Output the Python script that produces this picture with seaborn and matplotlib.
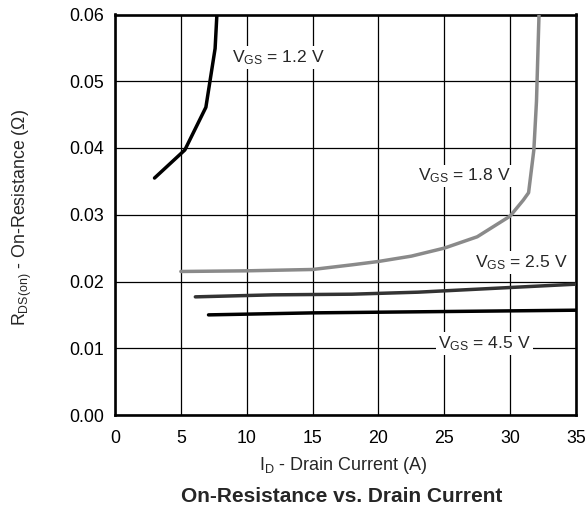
import matplotlib
matplotlib.use("Agg")
import matplotlib.pyplot as plt
import seaborn as sns
import pandas as pd

# ---- data ----
x_12 = [3.0, 5.3, 6.9, 7.6, 7.75]
y_12 = [0.0355, 0.0397, 0.0461, 0.0549, 0.0605]

x_18 = [5.0, 10.0, 15.0, 18.0, 20.0, 22.5, 25.0, 27.5, 30.0, 31.0, 31.4, 31.8, 32.0, 32.2]
y_18 = [0.0215, 0.0216, 0.0218, 0.0225, 0.0230, 0.0238, 0.0250, 0.0267, 0.0298, 0.0322, 0.0333, 0.0397, 0.0470, 0.0605]

x_25 = [6.1, 10.0, 12.0, 18.0, 23.0, 28.0, 35.0]
y_25 = [0.0177, 0.0179, 0.0180, 0.0181, 0.0184, 0.0189, 0.0196]

x_45 = [7.1, 15.0, 25.0, 35.0]
y_45 = [0.0150, 0.0153, 0.0155, 0.0157]

series_labels = ["1.2", "1.8", "2.5", "4.5"]
x_ticks = [0, 5, 10, 15, 20, 25, 30, 35]
y_ticks = [0.00, 0.01, 0.02, 0.03, 0.04, 0.05, 0.06]

sns.set_style("white")
plt.rcParams['font.family'] = ['Liberation Sans', 'DejaVu Sans']
plt.rcParams['mathtext.fontset'] = 'custom'
plt.rcParams['mathtext.rm'] = 'Liberation Sans'

fig = plt.figure(figsize=(5.87, 5.27), dpi=100)
ax = fig.add_axes([115/587, 1-415/527, (576-115)/587, (415-14.5)/527])

frames = []
for lab, xs, ys in [("1.2", x_12, y_12), ("1.8", x_18, y_18), ("2.5", x_25, y_25), ("4.5", x_45, y_45)]:
    frames.append(pd.DataFrame({"I": xs, "R": ys, "V": lab}))
df = pd.concat(frames, ignore_index=True)

palette = {"1.2": "#000000", "1.8": "#8a8a8a", "2.5": "#333333", "4.5": "#000000"}
sns.lineplot(data=df, x="I", y="R", hue="V", palette=palette, estimator=None,
             sort=False, linewidth=2.5, legend=False, ax=ax, zorder=3)

ax.set_xlim(0, 35)
ax.set_ylim(0, 0.06)
ax.set_xticks(x_ticks)
ax.set_yticks(y_ticks)
ax.set_xticklabels([str(t) for t in x_ticks])
ax.set_yticklabels([f"{t:.2f}" for t in y_ticks])
ax.tick_params(axis='both', length=0, labelsize=12.8, colors='black')
ax.tick_params(axis='x', pad=11)
ax.tick_params(axis='y', pad=8)
ax.grid(True, color='black', linewidth=0.9)
ax.set_axisbelow(True)
for s in ax.spines.values():
    s.set_color('black')
    s.set_linewidth(1.9)
    s.set_visible(True)
ax.set_xlabel("")
ax.set_ylabel("")

box = dict(facecolor='white', edgecolor='none', pad=1.5)
label_pos = {"1.2": (8.9, 0.0535), "1.8": (23.0, 0.0358), "2.5": (27.3, 0.0228), "4.5": (24.5, 0.0107)}
for lab in series_labels:
    lx, ly = label_pos[lab]
    ax.text(lx, ly, r"$\mathregular{V_{GS}}$ = " + lab + " V", fontsize=12.6,
            ha='left', va='center', bbox=box, zorder=4)

fig.text(343/587, 1-465/527, r"$\mathregular{I_D}$ - Drain Current (A)", fontsize=13,
         ha='center', va='center')
fig.text(341.5/587, 1-497/527, "On-Resistance vs. Drain Current", fontsize=15,
         fontweight='bold', ha='center', va='center')
fig.text(22/587, 1-217.5/527, r"$\mathregular{R_{DS(on)}}$ - On-Resistance (Ω)", fontsize=12.8,
         rotation=90, ha='center', va='center')

fig.savefig("out.png", dpi=100)
